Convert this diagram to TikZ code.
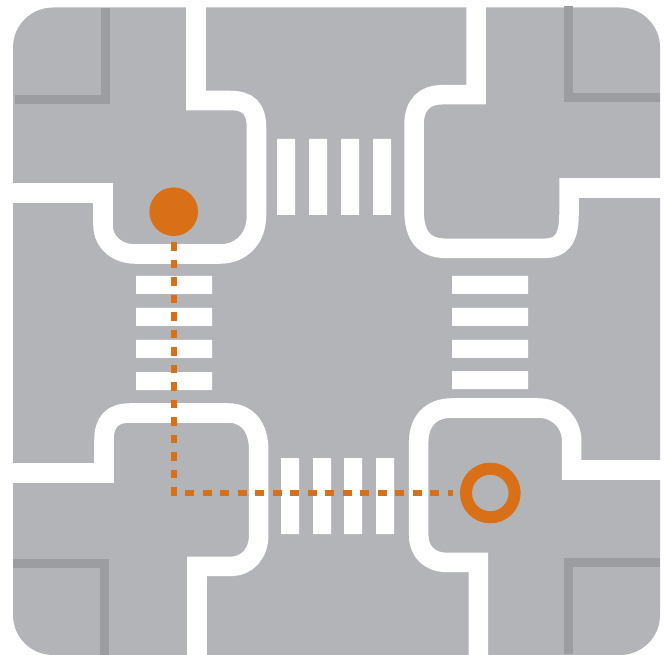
\documentclass[tikz,border=0pt]{standalone}
\usepackage{tikz}
\definecolor{roadgray}{HTML}{B3B4B8}
\definecolor{kerbgray}{HTML}{9C9DA1}
\definecolor{routeorange}{HTML}{D97018}
\tikzset{
  road/.style={draw=white,line width=.195cm},
  kerb/.style={draw=kerbgray,line width=.09cm},
  zebra/.style={fill=white},
  startdot/.style={circle,fill=routeorange,inner sep=0pt,minimum size=.486cm,outer sep=.06cm},
  goalring/.style={circle,draw=routeorange,line width=.12cm,inner sep=0pt,minimum size=.486cm,outer sep=.127cm},
  route/.style={draw=routeorange,line width=.056cm,dash pattern=on .0875cm off .0875cm}
}
\begin{document}
\begin{tikzpicture}[x=.01cm,y=-.01cm]
    \useasboundingbox (0,0) rectangle (670,655);
    \fill[roadgray,rounded corners=.4cm] (13,7.5) rectangle (660,655);
    \draw[kerb] (14.5,99.5) -- (105.8,99.5) -- (105.8,8);
    \draw[kerb] (568.8,6) -- (568.8,97.5) -- (660,97.5);
    \draw[kerb] (13,563.5) -- (104.2,563.5) -- (104.2,655);
    \draw[kerb] (660,562.8) -- (568.8,562.8) -- (568.8,654);
    \draw[road] (196,0) -- (196,100.5) -- (230,100.5) .. controls (248,100.5) and (256.5,108) .. (256.5,128)
      -- (256.5,215) .. controls (256.5,240) and (240,254) .. (220,254) -- (135,254)
      .. controls (118,254) and (103,243) .. (103,225) -- (103,193) -- (5,193);
    \draw[road] (476,0) -- (476,94.7) -- (443,94.7) .. controls (424,94.7) and (414,105) .. (414,125)
      -- (414,210) .. controls (414,237) and (425,248) .. (445,248.3) -- (545,248.3)
      .. controls (560,248.3) and (569,240) .. (569,215) -- (569,188) -- (668,188);
    \draw[road] (5,473) -- (104,473) -- (104,440) .. controls (104,422) and (112,413) .. (130,413)
      -- (228,413) .. controls (248,413) and (258.7,428) .. (258.7,450) -- (258.7,535)
      .. controls (258.7,553) and (248,566.4) .. (230,566.4) -- (197,566.4) -- (197,655);
    \draw[road] (668,470) -- (571.7,470) -- (571.7,442) .. controls (571.7,420) and (555,408) .. (538,408)
      -- (452,408) .. controls (430,408) and (418.7,422) .. (418.7,442) -- (418.7,535)
      .. controls (418.7,552) and (430,562.4) .. (447,562.4) -- (478.3,562.4) -- (478.3,655);
    \fill[zebra] (277,139) rectangle (295,215) (309,139) rectangle (327,215)
      (341,139) rectangle (359,215) (373,139) rectangle (391,215);
    \fill[zebra] (281,458) rectangle (299,534) (313,458) rectangle (331,534)
      (344,458) rectangle (362,534) (376,458) rectangle (394,534);
    \fill[zebra] (136,276) rectangle (212,294) (136,308) rectangle (212,326)
      (136,340) rectangle (212,358) (136,372) rectangle (212,390);
    \fill[zebra] (452,276) rectangle (528,294) (452,308) rectangle (528,326)
      (452,340) rectangle (528,358) (452,371) rectangle (528,389);
    \node[startdot] (start) at (173.7,211.7) {};
    \node[goalring] (goal) at (490.3,493) {};
    \draw[route] (start) |- (goal);
  \end{tikzpicture}
\end{document}
